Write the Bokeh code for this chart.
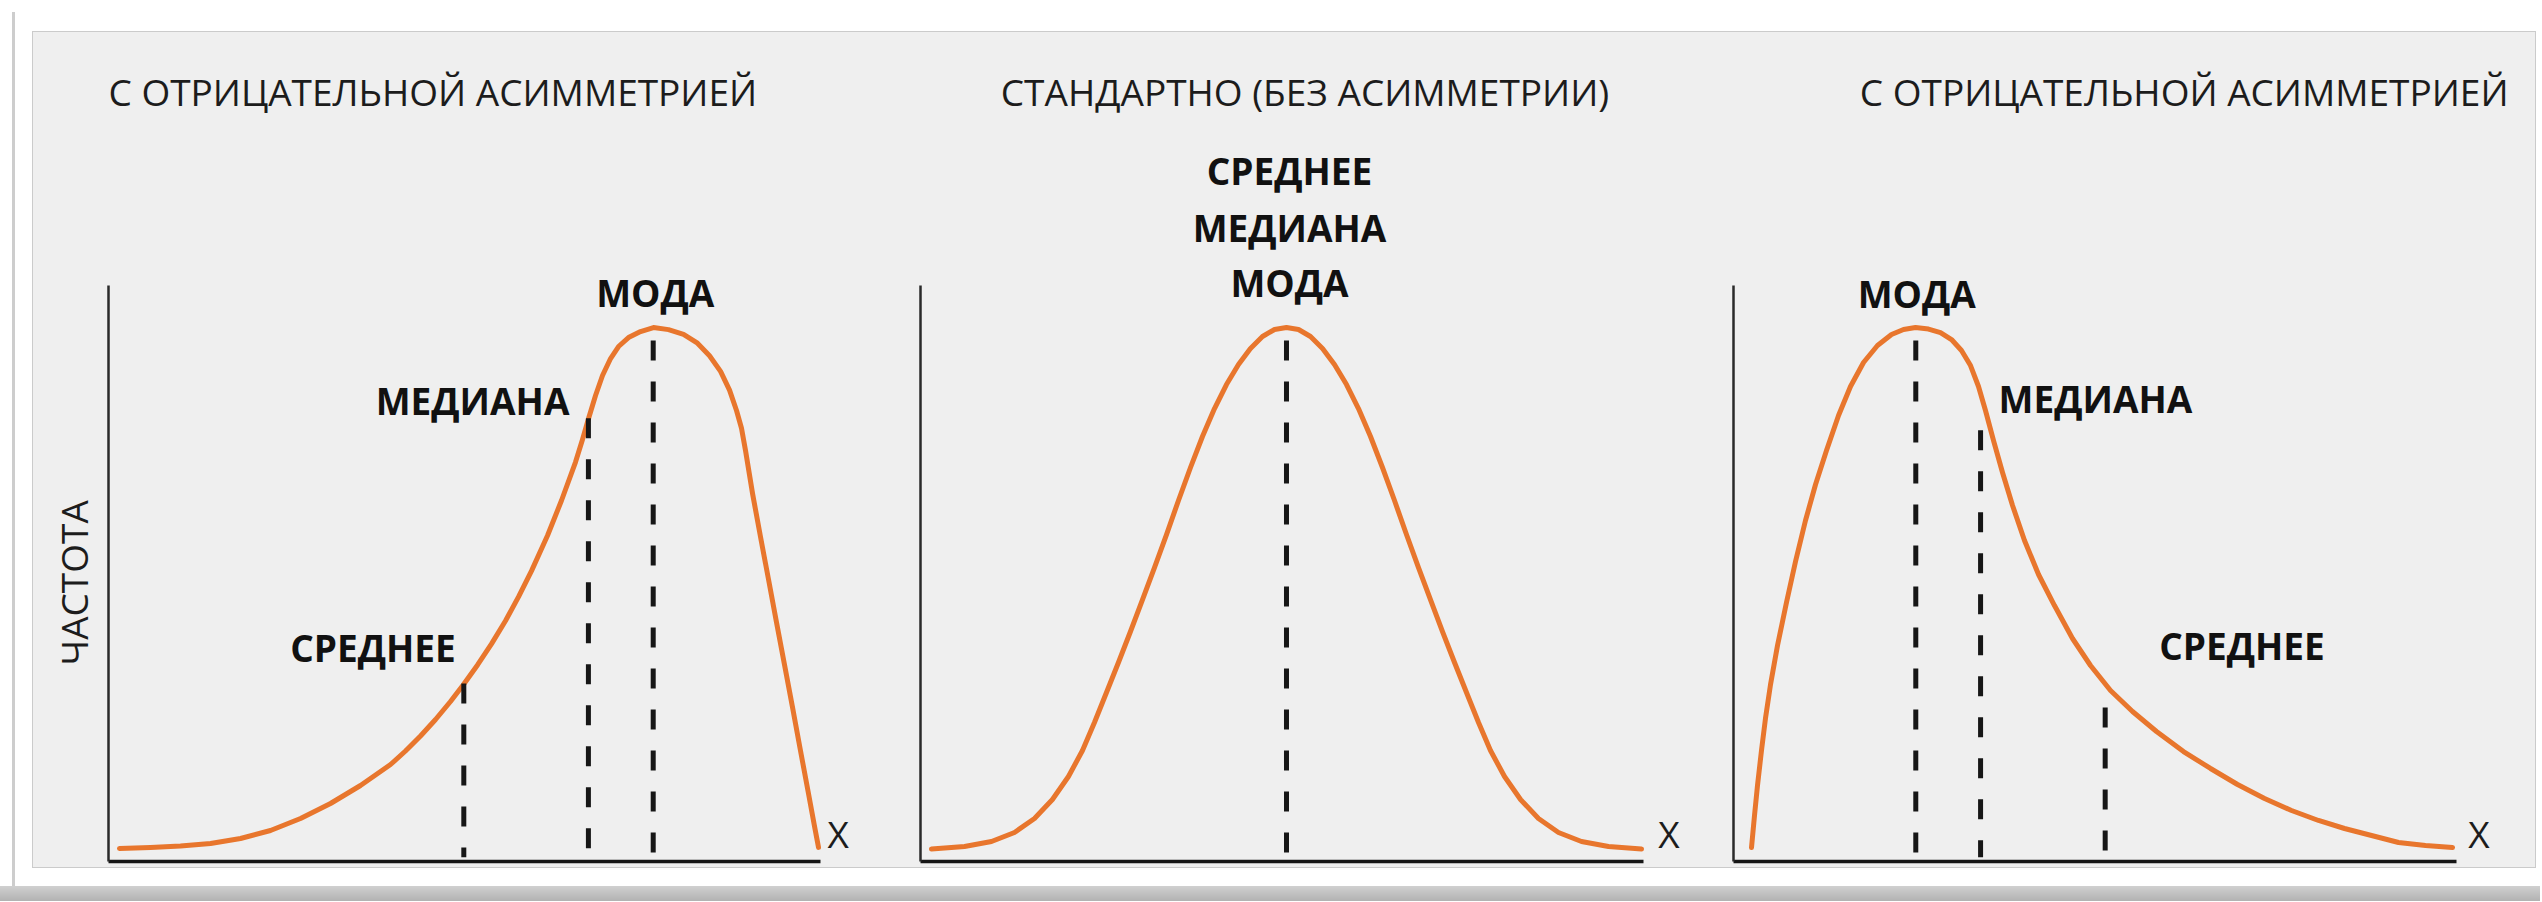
from bokeh.plotting import figure
from bokeh.models import Range1d, LinearAxis, FixedTicker, Spacer, Title
from bokeh.layouts import row, column
from bokeh.embed import file_html
from bokeh.resources import INLINE
from bokeh.core.properties import value

# ---------------- data ----------------
titles = ["С ОТРИЦАТЕЛЬНОЙ АСИММЕТРИЕЙ", "СТАНДАРТНО (БЕЗ АСИММЕТРИИ)", "С ОТРИЦАТЕЛЬНОЙ АСИММЕТРИЕЙ"]
y_label = "ЧАСТОТА"
x_label = "X"

# left panel: long left tail
neg_x = [1.54, 5.90, 10.11, 14.33, 18.54, 22.75, 26.97, 31.18, 35.39, 39.61, 41.71, 43.82, 45.93,
         48.03, 49.86, 51.83, 53.79, 55.76, 57.58, 59.41, 61.66, 63.62, 65.59, 66.57, 67.42, 68.40,
         69.38, 70.51, 71.63, 73.03, 74.72, 76.54, 78.65, 80.76, 82.72, 84.41, 85.96, 87.22, 88.20,
         88.90, 89.47, 90.45, 91.57, 92.70, 93.82, 94.94, 96.07, 97.19, 98.31, 99.16, 99.72]
neg_f = [0.19, 0.38, 0.67, 1.15, 2.11, 3.64, 5.94, 8.81, 12.26, 16.28, 18.87, 21.74, 24.90,
         28.35, 31.61, 35.36, 39.39, 43.81, 48.39, 53.38, 60.15, 66.86, 74.23, 78.54, 82.57, 86.97,
         90.80, 94.06, 96.36, 98.08, 99.23, 100.0, 99.60, 98.70, 97.00, 94.60, 91.60, 88.00, 84.10,
         80.70, 76.40, 68.20, 59.90, 51.70, 43.50, 35.40, 27.20, 18.90, 10.70, 4.40, 0.40]
neg_marks = ["СРЕДНЕЕ", "МЕДИАНА", "МОДА"]
neg_marks_x = [49.9, 67.4, 76.5]
neg_marks_top = [31.8, 82.6, 97.5]

# middle panel: symmetric
norm_x = [1.54, 6.18, 9.97, 13.20, 16.01, 18.53, 20.78, 22.75, 24.43, 26.12, 27.80, 29.49, 31.18,
          32.86, 34.55, 36.23, 37.92, 39.60, 41.29, 42.97, 44.66, 46.34, 48.03, 49.72, 51.40,
          53.09, 54.77, 56.46, 58.14, 59.83, 61.51, 63.20, 64.88, 66.57, 68.25, 69.94, 71.62,
          73.31, 75.00, 76.68, 78.37, 80.05, 82.02, 84.27, 86.79, 89.60, 92.83, 96.62, 101.26]
norm_f = [0.10, 0.57, 1.53, 3.26, 5.94, 9.58, 13.98, 18.97, 24.33, 30.08, 35.82, 41.76, 47.89,
          54.02, 60.34, 66.86, 73.18, 79.12, 84.48, 89.08, 92.91, 95.98, 98.28, 99.62, 100.0,
          99.62, 98.28, 95.98, 92.91, 89.08, 84.48, 79.12, 73.18, 66.86, 60.34, 54.02, 47.89,
          41.76, 35.82, 30.08, 24.33, 18.97, 13.98, 9.58, 5.94, 3.26, 1.53, 0.57, 0.10]
norm_marks = ["СРЕДНЕЕ", "МЕДИАНА", "МОДА"]
norm_marks_x = [51.4]
norm_marks_top = [97.5]

# right panel: long right tail
pos_x = [2.53, 2.95, 3.37, 3.93, 4.49, 5.20, 6.18, 7.44, 8.71, 10.11, 11.52, 13.06, 14.75, 16.43,
         18.26, 20.22, 22.19, 23.88, 25.56, 27.39, 29.07, 30.62, 32.02, 33.29, 34.41, 35.39,
         36.52, 37.78, 39.19, 40.87, 42.84, 45.08, 47.61, 50.14, 52.95, 56.04, 59.41, 63.20,
         66.99, 70.79, 74.58, 78.37, 82.16, 85.81, 89.61, 93.40, 97.19, 100.98]
pos_f = [0.38, 6.51, 12.26, 18.97, 25.10, 31.61, 39.08, 47.32, 55.17, 63.03, 69.92, 76.44, 83.14,
         88.70, 93.30, 96.55, 98.66, 99.62, 100.0, 99.71, 99.04, 97.70, 95.59, 92.72, 88.70,
         84.10, 78.35, 72.22, 65.90, 59.20, 52.68, 46.74, 40.42, 35.25, 30.46, 26.44, 22.61,
         18.77, 15.52, 12.45, 9.77, 7.47, 5.56, 4.02, 2.68, 1.34, 0.77, 0.38]
pos_marks = ["МОДА", "МЕДИАНА", "СРЕДНЕЕ"]
pos_marks_x = [25.6, 34.7, 52.2]
pos_marks_top = [97.5, 80.3, 27.2]

# ---------------- style ----------------
BG = "#efefef"
ORANGE = "#E8762D"
INK = "#161616"
FONT = "Open Sans"
FS = "37px"
PANEL_H = 835


def make_panel(title, xs, fs, width, left, right, axis_end, x_lab_off,
               title_align, title_off, ylabel=None):
    p = figure(width=width, height=PANEL_H, x_range=Range1d(0, 108), y_range=Range1d(-2.3, 139.66),
               toolbar_location=None, output_backend="svg", x_axis_type=None, y_axis_type=None,
               min_border_left=left, min_border_right=right, min_border_top=88, min_border_bottom=6,
               background_fill_color=BG, border_fill_color=BG, outline_line_color=None,
               title=title)
    p.title.text_font = FONT
    p.title.text_font_size = FS
    p.title.text_font_style = "normal"
    p.title.text_color = "#1c1c1c"
    p.title.align = title_align
    p.title.offset = title_off
    p.title.standoff = 8

    xa = LinearAxis(ticker=FixedTicker(ticks=[]), bounds=(0, axis_end),
                    axis_line_width=3.5, axis_line_color=INK,
                    major_tick_line_color=None, minor_tick_line_color=None)
    p.add_layout(xa, "below")
    ya = LinearAxis(ticker=FixedTicker(ticks=[]), bounds=(-2.3, 108),
                    axis_line_width=2.5, axis_line_color="#2a2a2a",
                    major_tick_line_color=None, minor_tick_line_color=None)
    p.add_layout(ya, "left")
    if ylabel:
        p.add_layout(Title(text=ylabel, align="left", offset=196, standoff=20,
                           text_font=FONT, text_font_size=FS, text_font_style="normal",
                           text_color="#1c1c1c"), "left")

    p.line(xs, fs, line_color=ORANGE, line_width=5, line_join="round", line_cap="round")

    p.text(x=[axis_end], y=[0], text=[x_label], x_offset=[x_lab_off], y_offset=[10],
           text_font=value(FONT), text_font_size=FS, text_color="#1c1c1c",
           text_align="left", text_baseline="bottom")
    return p


def marks(p, mx, mtop):
    p.segment(x0=mx, y0=mtop, x1=mx, y1=[-1.5] * len(mx), line_color=INK,
              line_width=5, line_dash="20 21")


def labels(p, names, lx, ly, xoff, yoff, align):
    p.text(x=lx, y=ly, text=names, x_offset=xoff, y_offset=yoff,
           text_font=value(FONT), text_font_style="bold", text_font_size=FS,
           text_color="#111111", text_align=align, text_baseline="alphabetic")


# left
p1 = make_panel(titles[0], neg_x, neg_f, 862, 75, 18, 100.0, 7, "left", 0, ylabel=y_label)
marks(p1, neg_marks_x, neg_marks_top)
labels(p1, neg_marks[:2], neg_marks_x[:2], neg_marks_top[:2], [-8, -19], [-36, -18], "right")
labels(p1, neg_marks[2:], neg_marks_x[2:], neg_marks_top[2:], [2], [-48], "center")

# middle
p2 = make_panel(titles[1], norm_x, norm_f, 815, 25, 21, 101.5, 15, "center", 0)
marks(p2, norm_marks_x, norm_marks_top)
labels(p2, norm_marks, norm_marks_x * 3, norm_marks_top * 3, [3, 3, 3], [-170, -113, -58], "center")

# right
p3 = make_panel(titles[2], pos_x, pos_f, 825, 23, 33, 101.5, 12, "right", -6)
marks(p3, pos_marks_x, pos_marks_top)
labels(p3, pos_marks[:1], pos_marks_x[:1], pos_marks_top[:1], [1], [-47], "center")
labels(p3, pos_marks[1:], pos_marks_x[1:], pos_marks_top[1:], [18, 54], [-32, -62], "left")

edge = {"background-color": "#cdcdcd"}
panels = row(p1, p2, p3, styles={"background-color": BG, "box-shadow": "0 0 0 1px #cbcbcb"})
layout = column(
    Spacer(width=2540, height=12),
    row(Spacer(width=12, height=20), Spacer(width=3, height=20, styles=edge)),
    row(Spacer(width=12, height=PANEL_H), Spacer(width=3, height=PANEL_H, styles=edge),
        Spacer(width=18, height=PANEL_H), panels),
    row(Spacer(width=12, height=19), Spacer(width=3, height=19, styles=edge),
        Spacer(width=2525, height=19)),
    Spacer(width=2540, height=15, styles={"background": "linear-gradient(#d0d0d0, #b2b2b2)"}),
)

open("out.html", "w").write(file_html(layout, INLINE))
